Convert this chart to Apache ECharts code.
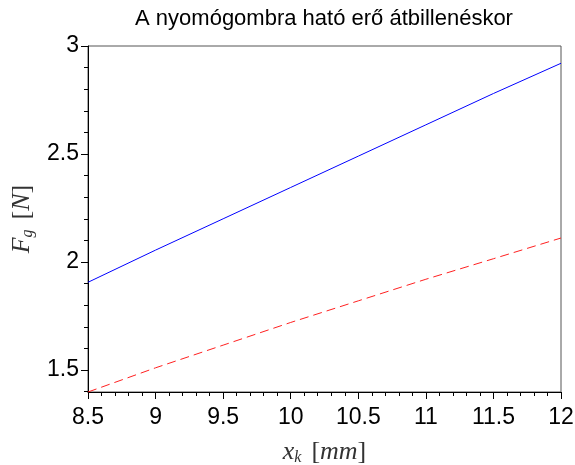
<!DOCTYPE html>
<html>
<head>
<meta charset="utf-8">
<script src="https://cdn.jsdelivr.net/npm/echarts@6/dist/echarts.min.js"></script>
<style>
  html, body { margin: 0; padding: 0; background: #fff; }
  #chart { width: 575px; height: 465px; }
</style>
</head>
<body>
<div id="chart"></div>
<script>
// x_k [mm] values
var xk = [8.5, 9, 9.5, 10, 10.5, 11, 11.5, 12];
// felső görbe (kék, folytonos)
var blueF = [1.906, 2.055, 2.200, 2.345, 2.490, 2.635, 2.780, 2.920];
// alsó görbe (piros, szaggatott)
var redF = [1.398, 1.510, 1.615, 1.720, 1.820, 1.920, 2.015, 2.111];
var yMajor = [1.5, 2, 2.5, 3];
var yMinor = [1.4, 1.6, 1.7, 1.8, 1.9, 2.1, 2.2, 2.3, 2.4, 2.6, 2.7, 2.8, 2.9];

var yMin = 1.398, yMax = 3;

function pairs(xs, ys) {
  return xs.map(function (x, i) { return [x, ys[i]]; });
}

var mathRich = {
  i: { fontFamily: 'Liberation Serif', fontStyle: 'italic', fontSize: 26, color: '#333', lineHeight: 28 },
  s: { fontFamily: 'Liberation Serif', fontStyle: 'italic', fontSize: 16, color: '#333', lineHeight: 16, verticalAlign: 'bottom', padding: [10, 0, 0, 0] },
  r: { fontFamily: 'Liberation Serif', fontSize: 26, color: '#333', lineHeight: 28 }
};

var chart = echarts.init(document.getElementById('chart'), null, { renderer: 'canvas' });
chart.setOption({
  animation: false,
  title: {
    text: 'A nyomógombra ható erő átbillenéskor',
    left: 319, top: 3, textAlign: 'center',
    textStyle: { fontFamily: 'Liberation Sans', fontSize: 22, fontWeight: 'normal', color: '#000' }
  },
  grid: { left: 88, right: 14, top: 46, bottom: 73, show: true, borderColor: '#555', borderWidth: 1,
    outerBoundsMode: 'none', containLabel: false },
  xAxis: {
    type: 'value', min: 8.5, max: 12, interval: 0.5,
    name: '{i|x}{s|k}   {r|[}{i|mm}{r|]}',
    nameLocation: 'middle', nameGap: 46,
    nameTextStyle: { rich: mathRich },
    axisLine: { onZero: false, lineStyle: { color: '#000' } },
    axisTick: { length: 7, lineStyle: { color: '#000' } },
    minorTick: { show: true, splitNumber: 5, length: 4, lineStyle: { color: '#000' } },
    axisLabel: { fontFamily: 'Liberation Sans', fontSize: 23, color: '#000', margin: 14 },
    splitLine: { show: false }
  },
  yAxis: [{
    type: 'value', min: yMin, max: yMax,
    name: '{i|F}{s|g}   {r|[}{i|N}{r|]}',
    nameLocation: 'middle', nameGap: 48,
    nameTextStyle: { rich: mathRich },
    axisLine: { onZero: false, lineStyle: { color: '#000' } },
    axisTick: { customValues: yMajor, length: 7, lineStyle: { color: '#000' } },
    axisLabel: { customValues: yMajor, fontFamily: 'Liberation Sans', fontSize: 23, color: '#000', margin: 9,
      formatter: function (v) { return String(v); } },
    splitLine: { show: false }
  }, {
    type: 'value', min: yMin, max: yMax, position: 'left',
    axisLine: { show: false },
    axisTick: { customValues: yMinor, length: 4, lineStyle: { color: '#000' } },
    axisLabel: { show: false },
    splitLine: { show: false }
  }],
  series: [{
    type: 'line', data: pairs(xk, blueF), showSymbol: false, smooth: false,
    lineStyle: { color: '#0000ff', width: 1 }
  }, {
    type: 'line', data: pairs(xk, redF), showSymbol: false, smooth: false,
    lineStyle: { color: '#ff2020', width: 1, type: [9, 5] }
  }]
});
</script>
</body>
</html>
